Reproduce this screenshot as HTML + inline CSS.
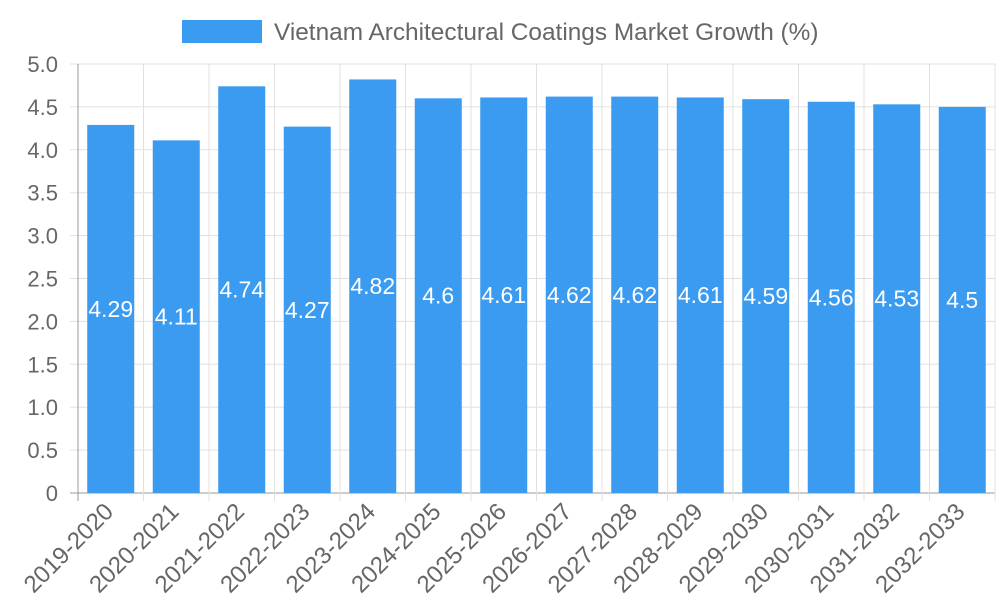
<!DOCTYPE html>
<html><head><meta charset="utf-8"><style>
body{margin:0;background:#fff;}
svg{display:block;font-family:"Liberation Sans",sans-serif;}
</style></head><body>
<svg id="chart" width="1000" height="600">
<g id="legend">
<rect x="182" y="20" width="80" height="23" fill="#3a9bf0"/>
<text x="274" y="40" font-size="24.4" fill="#666">Vietnam Architectural Coatings Market Growth (%)</text>
</g>
<g id="grid"></g><g id="bars"></g><g id="labels"></g>
</svg>
<script>
const categories=["2019-2020","2020-2021","2021-2022","2022-2023","2023-2024","2024-2025","2025-2026","2026-2027","2027-2028","2028-2029","2029-2030","2030-2031","2031-2032","2032-2033"];
const values=[4.29,4.11,4.74,4.27,4.82,4.6,4.61,4.62,4.62,4.61,4.59,4.56,4.53,4.5];
const yTicks=[0,0.5,1.0,1.5,2.0,2.5,3.0,3.5,4.0,4.5,5.0];
const yTickLabels=["0","0.5","1.0","1.5","2.0","2.5","3.0","3.5","4.0","4.5","5.0"];
const NS="http://www.w3.org/2000/svg";
const L=78,R=995,T=64,B=493,yMax=5;
const y=v=>B-(v/yMax)*(B-T);
const band=(R-L)/categories.length;
const x=i=>L+i*band;
function mk(tag,attrs,parent){const e=document.createElementNS(NS,tag);for(const k in attrs)e.setAttribute(k,attrs[k]);parent.appendChild(e);return e;}
const grid=document.getElementById('grid'),bars=document.getElementById('bars'),labels=document.getElementById('labels');
yTicks.forEach((t,i)=>{
  const l=mk('line',{x1:L-8,x2:R,y1:y(t),y2:y(t),stroke:i===0?'#999':'#e0e0e0','stroke-width':1},grid);
  
  
  const tx=mk('text',{x:L-20,y:y(t)+8,'text-anchor':'end','font-size':22,fill:'#666'},grid);
  tx.textContent=yTickLabels[i];
  
  
});
for(let i=0;i<=categories.length;i++){
  const l=mk('line',{x1:x(i),x2:x(i),y1:T,y2:B+8,stroke:i===0?'#999':'#e0e0e0','stroke-width':1},grid);
  
  
}
categories.forEach((c,i)=>{
  const cx=x(i)+band/2,bw=47;
  const r=mk('rect',{x:cx-bw/2,y:y(values[i]),width:bw,height:B-y(values[i]),fill:'#3a9bf0'},bars);
  
  
  const vt=mk('text',{x:cx,y:(y(values[i])+B)/2+8,'text-anchor':'middle','font-size':23,fill:'#fff'},labels);
  vt.textContent=values[i];
  
  
  const xt=mk('text',{x:cx+4,y:B+20,'text-anchor':'end','font-size':24,fill:'#666',transform:`rotate(-45 ${cx+4} ${B+20})`},labels);
  xt.textContent=c;
  
  
});
</script>
</body></html>
